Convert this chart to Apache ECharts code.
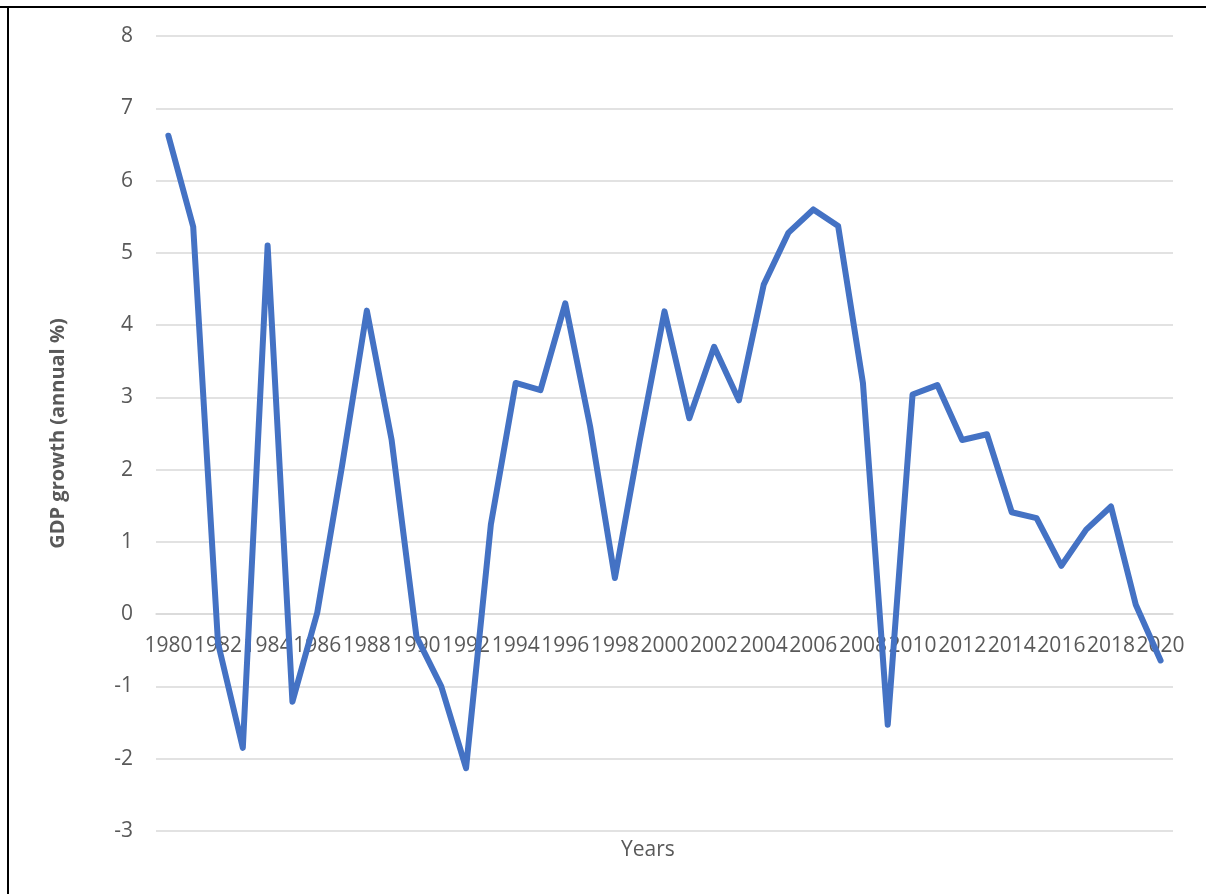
<!DOCTYPE html>
<html><head><meta charset="utf-8">
<script src="https://cdn.jsdelivr.net/npm/echarts@6/dist/echarts.min.js"></script>
<style>html,body{margin:0;padding:0;background:#fff}#c{width:1206px;height:894px}</style>
</head><body><div id="c"></div>
<script>
const years = [];
for (let y = 1980; y <= 2020; y++) years.push(String(y));
const gdpGrowth = [6.62, 5.36, -0.40, -1.85, 5.10, -1.21, 0.02, 2.05, 4.20, 2.41,
  -0.31, -1.00, -2.13, 1.24, 3.20, 3.10, 4.30, 2.60, 0.50, 2.40,
  4.19, 2.71, 3.70, 2.96, 4.56, 5.28, 5.60, 5.37, 3.20, -1.53,
  3.04, 3.17, 2.41, 2.49, 1.41, 1.33, 0.67, 1.17, 1.49, 0.13, -0.64];
const yMin = -3, yMax = 8, yStep = 1;
const yTitle = 'GDP growth (annual %)';
const xTitle = 'Years';

const gridBottom = 63;
const chart = echarts.init(document.getElementById('c'));
chart.setOption({
  animation: false,
  grid: { left: 156, right: 33, top: 36, bottom: gridBottom },
  xAxis: {
    type: 'category', data: years, boundaryGap: true, position: 'bottom', offset: 0,
    axisLine: { show: true, onZero: false, lineStyle: { color: '#D9D9D9', width: 1.5 } },
    axisTick: { show: false },
    axisLabel: { interval: 1, color: '#595959', fontSize: 21, fontFamily: 'Open Sans', margin: 21 },
    splitLine: { show: false }
  },
  yAxis: {
    type: 'value', min: yMin, max: yMax, interval: yStep,
    axisLine: { show: false }, axisTick: { show: false },
    axisLabel: { color: '#595959', fontSize: 21, fontFamily: 'Open Sans', margin: 23 },
    splitLine: { lineStyle: { color: '#D9D9D9', width: 1.5 } },
    name: yTitle, nameLocation: 'middle', nameGap: 88, nameRotate: 90,
    nameTextStyle: { color: '#595959', fontSize: 20, fontWeight: 'bold', fontFamily: 'Open Sans' }
  },
  series: [{
    type: 'line', data: gdpGrowth, symbol: 'none',
    lineStyle: { color: '#4472C4', width: 6, cap: 'round', join: 'round' }
  }],
  graphic: [
    { type: 'text', left: 621, top: 840, style: { text: xTitle, fill: '#595959', fontSize: 21, fontFamily: 'Open Sans' } },
    { type: 'line', shape: { x1: 0, y1: 7, x2: 1206, y2: 7 }, style: { stroke: '#000', lineWidth: 2 } },
    { type: 'line', shape: { x1: 8, y1: 6, x2: 8, y2: 894 }, style: { stroke: '#000', lineWidth: 2 } }
  ]
});
// place the category axis on the value 0 using the library's own y scale
const zeroPx = chart.convertToPixel({ yAxisIndex: 0 }, 0);
const bottomPx = chart.convertToPixel({ yAxisIndex: 0 }, yMin);
chart.setOption({ xAxis: { offset: -(bottomPx - zeroPx) } });
</script></body></html>
